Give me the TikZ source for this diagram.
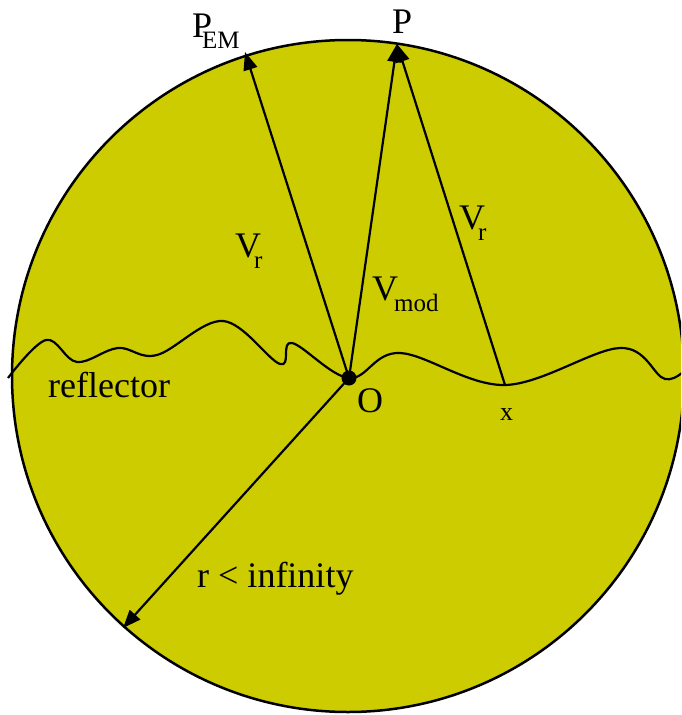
\documentclass[tikz,border=0pt]{standalone}
\usepackage{fontspec}
\setmainfont{Liberation Serif}
\usetikzlibrary{arrows.meta}
\definecolor{disk}{RGB}{204,204,0}
\newcommand\subtxt[1]{\raisebox{-0.32em}{\fontsize{25}{25}\selectfont #1}}
\tikzset{
  lbl/.style={inner sep=0pt, anchor=base west, font=\fontsize{36}{40}\selectfont},
  vec/.style={line width=2.2pt, -{Triangle[length=18pt,width=14pt]}},
}
\begin{document}
\begin{tikzpicture}[x=1pt,y=-1pt]
\clip (0,0) rectangle (681,715);
\fill[white] (0,0) rectangle (681,715);
\draw[fill=disk, line width=2.5pt] (348,376) circle (336);
% reflector
\draw[line width=2.2pt] plot[smooth, tension=0.6] coordinates {(8,378) (46,340) (77,362) (118,348) (157,355) (223,321) (280,364) (292,343) (349,378) (400,353) (505,385) (620,348) (665,379) (690,365)};
\coordinate (O) at (349,378);
\coordinate (X) at (505,385);
\coordinate (PEM) at (245,52);
\coordinate (P) at (397,44);
\coordinate (R) at (123,628);
\draw[vec] (O) -- (PEM);
\draw[vec] (O) -- (P);
\draw[vec] (X) -- (P);
\draw[vec] (O) -- (R);
\fill (O) circle (7.5);
% labels
\node[lbl] (lP) at (392,33) {P};
\node[lbl] (lPEM) at (192,37) {P\kern-10pt\subtxt{EM}};
\node[lbl] (lVr1) at (235,257) {V\kern-7pt\subtxt{r}};
\node[lbl] (lVmod) at (372,300) {V\kern-4pt\subtxt{mod}};
\node[lbl] (lVr2) at (459,229) {V\kern-7pt\subtxt{r}};
\node[lbl] (lrefl) at (48,397) {reflector};
\node[lbl] (lO) at (357,412) {O};
\node[lbl, font=\fontsize{26}{30}\selectfont] (lx) at (500,420) {x};
\node[lbl] (lr) at (197,587) {r < infinity};
\end{tikzpicture}
\end{document}
